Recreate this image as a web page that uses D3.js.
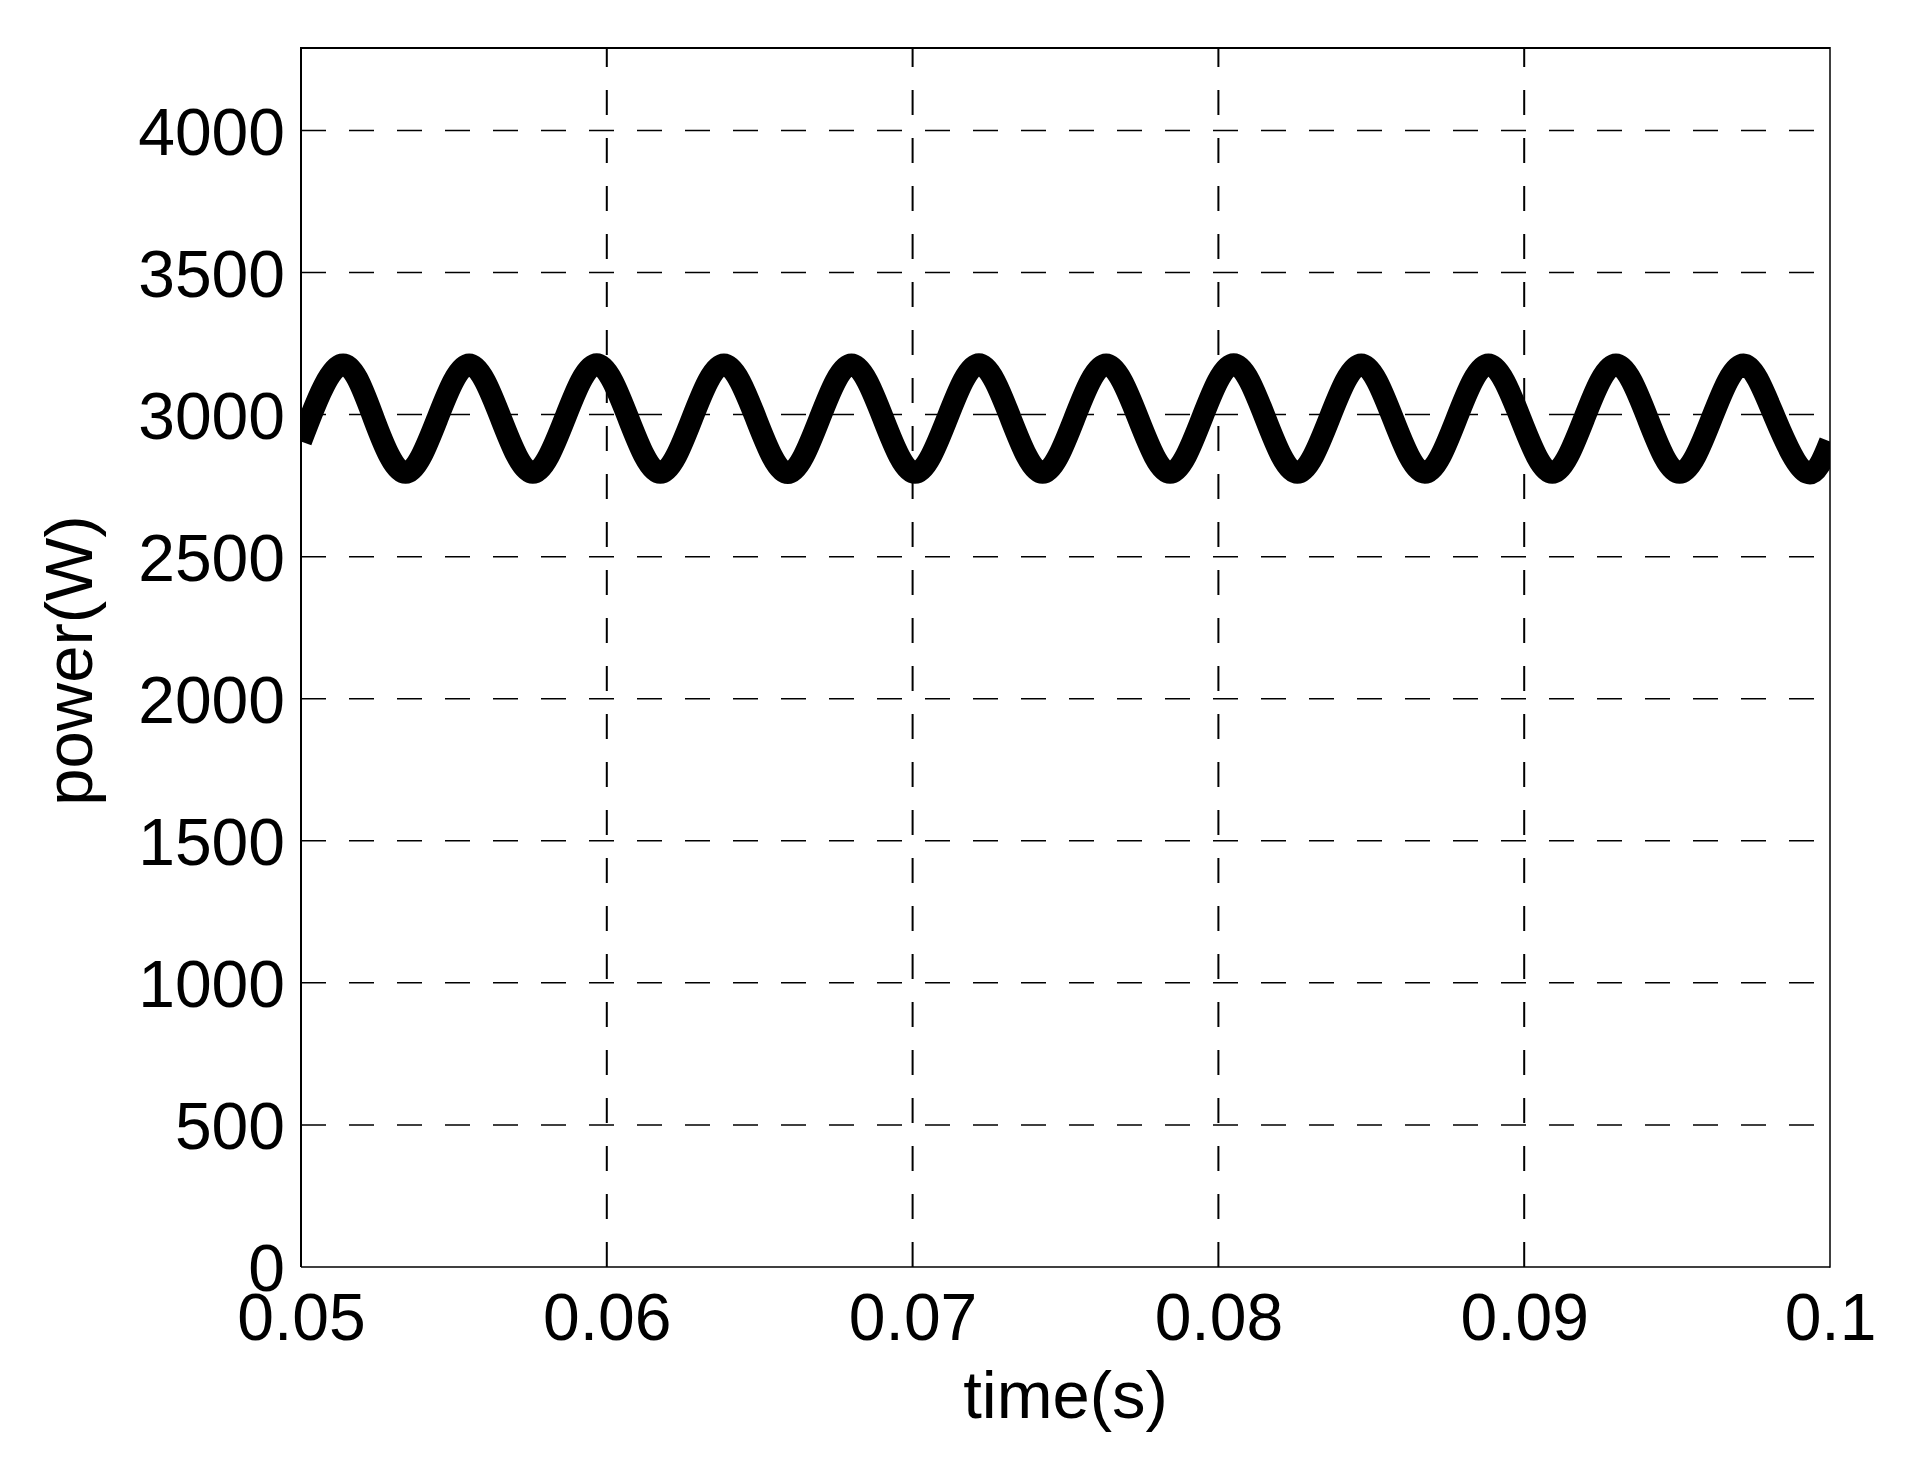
<!DOCTYPE html>
<html>
<head>
<meta charset="utf-8">
<script src="https://cdn.jsdelivr.net/npm/d3@7/dist/d3.min.js"></script>
<style>
  html, body { margin: 0; padding: 0; background: #fff; }
  svg { display: block; }
  text { font-family: "Liberation Sans", Arial, sans-serif; fill: #000; }
</style>
</head>
<body>
<script>
// ---- data ----
const timeTicks = [0.05, 0.06, 0.07, 0.08, 0.09, 0.1];
const timeTickLabels = ["0.05", "0.06", "0.07", "0.08", "0.09", "0.1"];
const powerTicks = [0, 500, 1000, 1500, 2000, 2500, 3000, 3500, 4000];
const powerTickLabels = ["0", "500", "1000", "1500", "2000", "2500", "3000", "3500", "4000"];
const timeDomain = [0.05, 0.1];
const powerDomain = [0, 4290];

// sampled points of the power waveform: start, crossings, peaks, troughs, end
const sampleTime = [
  0.05000, 0.05029, 0.05133, 0.05238, 0.05342, 0.05446, 0.05550, 0.05654, 0.05758,
  0.05863, 0.05967, 0.06071, 0.06175, 0.06279, 0.06383, 0.06488, 0.06592,
  0.06696, 0.06800, 0.06904, 0.07008, 0.07113, 0.07217, 0.07321, 0.07425,
  0.07529, 0.07633, 0.07738, 0.07842, 0.07946, 0.08050, 0.08154, 0.08258,
  0.08363, 0.08467, 0.08571, 0.08675, 0.08779, 0.08883, 0.08988, 0.09092,
  0.09196, 0.09300, 0.09404, 0.09508, 0.09613, 0.09717, 0.09821, 0.09925,
  0.10000
];
const samplePower = [
  2905, 2986, 3176, 2986, 2795, 2986, 3176, 2986, 2795,
  2986, 3177, 2986, 2795, 2986, 3176, 2986, 2794,
  2986, 3176, 2986, 2795, 2986, 3177, 2986, 2795,
  2986, 3176, 2986, 2795, 2986, 3177, 2986, 2795,
  2986, 3176, 2986, 2795, 2986, 3176, 2986, 2795,
  2986, 3176, 2986, 2795, 2986, 3176, 2986, 2795,
  2905
];

const xLabel = "time(s)";
const yLabel = "power(W)";

// ---- layout ----
const W = 1908, H = 1458;
const plot = { left: 301, right: 1830, top: 48, bottom: 1267 };

const svg = d3.select("body").append("svg").attr("width", W).attr("height", H);

const x = d3.scaleLinear().domain(timeDomain).range([plot.left, plot.right]);
const y = d3.scaleLinear().domain(powerDomain).range([plot.bottom, plot.top]);

// clip
svg.append("defs").append("clipPath").attr("id", "clip")
  .append("rect").attr("x", plot.left).attr("y", plot.top)
  .attr("width", plot.right - plot.left).attr("height", plot.bottom - plot.top);

// grid lines (dashed)
const grid = svg.append("g");
grid.selectAll("line.h").data(powerTicks.filter(v => v > 0)).enter().append("line")
  .attr("class", "h")
  .attr("x1", plot.left).attr("x2", plot.right)
  .attr("y1", d => y(d)).attr("y2", d => y(d))
  .attr("stroke", "#000").attr("stroke-width", 1.5)
  .attr("stroke-dasharray", "25,23");
grid.selectAll("line.v").data(timeTicks.filter((v, i) => i > 0 && i < timeTicks.length - 1)).enter().append("line")
  .attr("class", "v")
  .attr("x1", d => x(d)).attr("x2", d => x(d))
  .attr("y1", plot.bottom).attr("y2", plot.top)
  .attr("stroke", "#000").attr("stroke-width", 2)
  .attr("stroke-dasharray", "25,23");

// data line
const pts = sampleTime.map((t, i) => [t, samplePower[i]]);
const line = d3.line().x(d => x(d[0])).y(d => y(d[1])).curve(d3.curveNatural);
svg.append("path")
  .datum(pts)
  .attr("d", line)
  .attr("clip-path", "url(#clip)")
  .attr("fill", "none")
  .attr("stroke", "#000")
  .attr("stroke-width", 22)
  .attr("stroke-linejoin", "round");

// axes box
svg.append("line").attr("x1", plot.left).attr("x2", plot.right).attr("y1", plot.top).attr("y2", plot.top)
  .attr("stroke", "#000").attr("stroke-width", 2);
svg.append("line").attr("x1", plot.left).attr("x2", plot.left).attr("y1", plot.top - 1).attr("y2", plot.bottom)
  .attr("stroke", "#000").attr("stroke-width", 2);
svg.append("line").attr("x1", plot.left).attr("x2", plot.right).attr("y1", plot.bottom).attr("y2", plot.bottom)
  .attr("stroke", "#000").attr("stroke-width", 1.5);
svg.append("line").attr("x1", plot.right).attr("x2", plot.right).attr("y1", plot.top - 1).attr("y2", plot.bottom + 0.75)
  .attr("stroke", "#000").attr("stroke-width", 1.5);

// tick labels via d3 axes (ticks hidden, labels styled)
const fontSize = 66;
const yAxis = d3.axisLeft(y).tickValues(powerTicks)
  .tickFormat((d, i) => powerTickLabels[i]).tickSize(0).tickPadding(16);
const gy = svg.append("g").attr("transform", `translate(${plot.left},0)`).call(yAxis);
gy.select(".domain").remove();
gy.selectAll("text").attr("font-size", fontSize)
  .attr("font-family", "'Liberation Sans', Arial, sans-serif")
  .attr("dy", "0.358em").attr("fill", "#000");

const xAxis = d3.axisBottom(x).tickValues(timeTicks)
  .tickFormat((d, i) => timeTickLabels[i]).tickSize(0).tickPadding(0);
const gx = svg.append("g").attr("transform", `translate(0,${plot.bottom})`).call(xAxis);
gx.select(".domain").remove();
gx.selectAll("text").attr("font-size", fontSize)
  .attr("font-family", "'Liberation Sans', Arial, sans-serif")
  .attr("y", 73).attr("dy", 0).attr("fill", "#000");

// axis titles
svg.append("text").attr("x", (plot.left + plot.right) / 2).attr("y", 1418)
  .attr("text-anchor", "middle").attr("font-size", 67).text(xLabel);
svg.append("text")
  .attr("transform", `translate(92,${(plot.top + plot.bottom) / 2 + 3}) rotate(-90)`)
  .attr("text-anchor", "middle").attr("font-size", 67).text(yLabel);
</script>
</body>
</html>
